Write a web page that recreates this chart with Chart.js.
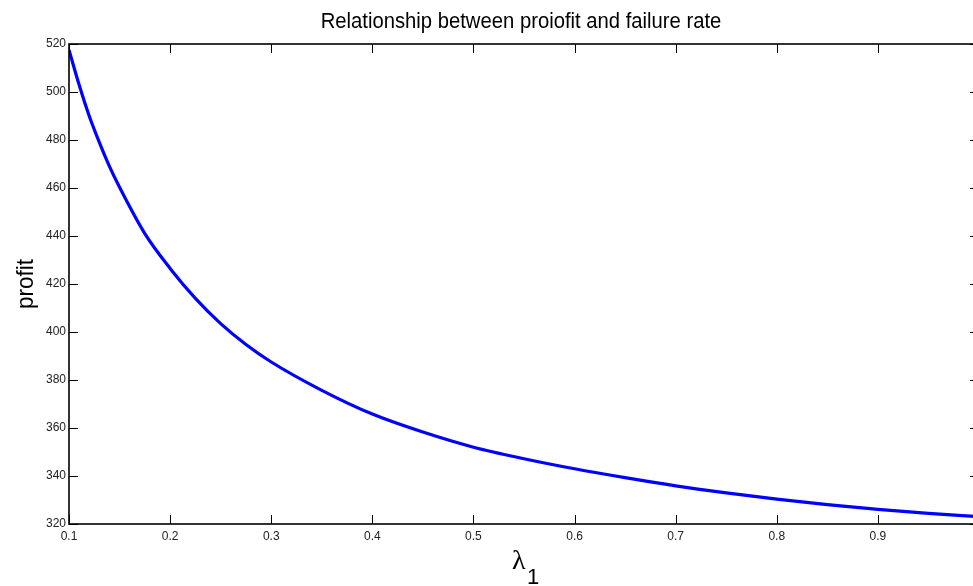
<!DOCTYPE html>
<html>
<head>
<meta charset="utf-8">
<script src="https://cdn.jsdelivr.net/npm/chart.js@4.4.1/dist/chart.umd.min.js"></script>
<style>
html,body{margin:0;padding:0;background:#fff;overflow:hidden;}
#wrap{width:973px;height:586px;overflow:hidden;position:relative;}
canvas{display:block;}
</style>
</head>
<body>
<div id="wrap"><canvas id="c" width="980" height="586"></canvas></div>
<script>
// Data
const lambdaValues = [0.10, 0.11, 0.12, 0.13, 0.14, 0.15, 0.175, 0.20, 0.225, 0.25, 0.275, 0.30, 0.35, 0.40, 0.45, 0.50, 0.55, 0.60, 0.65, 0.70, 0.75, 0.80, 0.85, 0.90, 0.95, 1.00];
const profitValues = [517.5, 503.0, 490.0, 479.0, 469.0, 460.3, 441.0, 426.5, 414.0, 403.5, 394.8, 387.5, 375.7, 365.8, 358.3, 352.0, 347.2, 343.0, 339.3, 335.9, 333.0, 330.4, 328.1, 326.1, 324.4, 323.1];
const xTickValues = [0.1, 0.2, 0.3, 0.4, 0.5, 0.6, 0.7, 0.8, 0.9];
const yTickValues = [320, 340, 360, 380, 400, 420, 440, 460, 480, 500, 520];
const titleText = 'Relationship between proiofit and failure rate';
const yTitle = 'profit';

const sans = '"Liberation Sans", Arial, sans-serif';
const points = lambdaValues.map((x, i) => ({x: x, y: profitValues[i]}));

const framePlugin = {
  id: 'frame',
  afterDraw(chart) {
    const ctx = chart.ctx;
    const a = chart.chartArea;
    const xs = chart.scales.x, ys = chart.scales.y;
    ctx.save();
    ctx.strokeStyle = '#000';
    ctx.lineWidth = 1;
    const tl = 9;
    ctx.beginPath();
    xTickValues.forEach(v => {
      const px = Math.round(xs.getPixelForValue(v)) + 0.5;
      ctx.moveTo(px, a.bottom); ctx.lineTo(px, a.bottom - tl);
      ctx.moveTo(px, a.top); ctx.lineTo(px, a.top + tl);
    });
    yTickValues.forEach(v => {
      const py = Math.round(ys.getPixelForValue(v)) + 0.5;
      ctx.moveTo(a.left, py); ctx.lineTo(a.left + tl, py);
      ctx.moveTo(a.right, py); ctx.lineTo(a.right - tl, py);
    });
    ctx.stroke();
    ctx.lineWidth = 1.6;
    ctx.strokeRect(a.left, a.top, a.right - a.left, a.bottom - a.top);

    ctx.fillStyle = '#000';
    ctx.textBaseline = 'alphabetic';
    // title
    ctx.save();
    ctx.textAlign = 'center';
    ctx.font = '22px ' + sans;
    ctx.translate(521, 28);
    ctx.scale(0.92, 1);
    ctx.fillText(titleText, 0, 0);
    ctx.restore();
    // y axis title
    ctx.save();
    ctx.textAlign = 'center';
    ctx.font = '24px ' + sans;
    ctx.translate(33, 284);
    ctx.rotate(-Math.PI / 2);
    ctx.scale(0.94, 1);
    ctx.fillText(yTitle, 0, 0);
    ctx.restore();
    // x axis label: lambda with subscript 1
    ctx.textAlign = 'left';
    ctx.font = '28px "Liberation Serif", "DejaVu Serif", serif';
    ctx.fillText('λ', 512, 569);
    ctx.font = '22px ' + sans;
    ctx.fillText('1', 527, 584);
    ctx.restore();
  }
};

new Chart(document.getElementById('c'), {
  type: 'line',
  data: {
    datasets: [{
      data: points,
      borderColor: '#0000ff',
      borderWidth: 3.2,
      pointRadius: 0,
      fill: false,
      cubicInterpolationMode: 'monotone'
    }]
  },
  options: {
    responsive: false,
    animation: false,
    devicePixelRatio: 1,
    layout: {padding: {left: 0, right: 1, top: 44, bottom: 0}},
    plugins: {
      legend: {display: false},
      tooltip: {enabled: false},
      title: {display: false}
    },
    scales: {
      x: {
        type: 'linear',
        min: 0.1,
        max: 1.0,
        grid: {display: false, drawTicks: false},
        border: {display: false},
        afterBuildTicks(scale) { scale.ticks = xTickValues.map(v => ({value: v})); },
        afterFit(scale) { scale.height = 62; },
        ticks: {
          color: '#222',
          padding: 5,
          font: {family: sans, size: 12},
          maxRotation: 0,
          autoSkip: false,
          callback: v => String(Math.round(v * 10) / 10)
        }
      },
      y: {
        type: 'linear',
        min: 320,
        max: 520,
        grid: {display: false, drawTicks: false},
        border: {display: false},
        afterBuildTicks(scale) { scale.ticks = yTickValues.map(v => ({value: v})); },
        afterFit(scale) { scale.width = 69; },
        ticks: {
          color: '#222',
          padding: 3,
          font: {family: sans, size: 12},
          autoSkip: false
        }
      }
    }
  },
  plugins: [framePlugin]
});
</script>
</body>
</html>
